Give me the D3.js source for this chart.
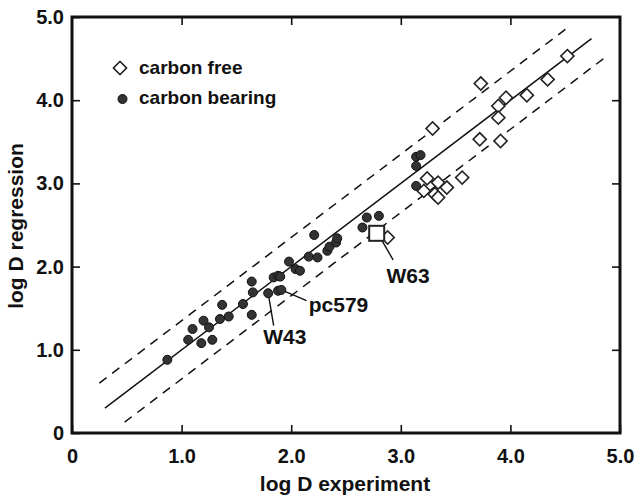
<!DOCTYPE html>
<html>
<head>
<meta charset="utf-8">
<script src="https://cdn.jsdelivr.net/npm/d3@7"></script>
<style>
  body { margin: 0; background: #fff; }
  svg { display: block; font-family: "Liberation Sans", Arial, Helvetica, sans-serif; font-weight: bold; }
  .tick text { font-size: 20px; font-weight: bold; fill: #111; }
  .tick line { stroke: #111; stroke-width: 1.6px; }
  .frame { fill: none; stroke: #111; stroke-width: 3px; }
  .fit { fill: none; stroke: #111; stroke-width: 1.5px; }
  .band { fill: none; stroke: #111; stroke-width: 1.5px; stroke-dasharray: 9 7; }
  .free { fill: #fff; stroke: #222; stroke-width: 1.6px; }
  .bearing { fill: #333; stroke: #111; stroke-width: 1px; }
  .leader { stroke: #111; stroke-width: 1.4px; }
  .note { font-size: 21px; fill: #111; }
  .title { font-size: 21px; fill: #111; }
  .legend text { font-size: 19px; fill: #111; }
</style>
</head>
<body>
<svg id="chart" width="641" height="500"></svg>
<script>
// carbon free samples: [log D experiment, log D regression]
var carbonFree = [
  [4.52, 4.53], [4.34, 4.25], [4.15, 4.06], [3.96, 4.03], [3.89, 3.93],
  [3.89, 3.79], [3.73, 4.20], [3.72, 3.53], [3.91, 3.51], [3.29, 3.66],
  [3.56, 3.07], [3.24, 3.06], [3.34, 3.01], [3.42, 2.95], [3.21, 2.91],
  [3.31, 2.87], [3.34, 2.83], [2.88, 2.35]
];

// carbon bearing samples
var carbonBearing = [
  [0.87, 0.88], [1.06, 1.12], [1.10, 1.25], [1.18, 1.08], [1.20, 1.35],
  [1.25, 1.27], [1.28, 1.12], [1.35, 1.37], [1.37, 1.54], [1.43, 1.40],
  [1.56, 1.55], [1.64, 1.82], [1.65, 1.69], [1.64, 1.42], [1.79, 1.68],
  [1.84, 1.87], [1.88, 1.89], [1.90, 1.88], [1.88, 1.71], [1.91, 1.72],
  [1.98, 2.06], [2.04, 1.97], [2.08, 1.95], [2.16, 2.12], [2.24, 2.11],
  [2.21, 2.38], [2.33, 2.19], [2.35, 2.24], [2.41, 2.29], [2.42, 2.34],
  [2.65, 2.47], [2.69, 2.59], [2.80, 2.61], [3.14, 3.32], [3.18, 3.34],
  [3.14, 3.21], [3.14, 2.97]
];

// highlighted sample W63 (open square)
var w63 = [2.78, 2.40];

// 1:1 line and the +/- 0.35 band
var fitLine = [[0.30, 0.30], [4.74, 4.74]];
var upperBand = [[0.25, 0.60], [4.51, 4.86]];
var lowerBand = [[0.48, 0.13], [4.88, 4.53]];

// labelled samples: point, leader end, text position (baseline start)
var notes = [
  { text: "W43",   p: [1.79, 1.68], end: [1.84, 1.29], at: [1.745, 1.07] },
  { text: "pc579", p: [1.91, 1.72], end: [2.14, 1.59], at: [2.16, 1.46] },
  { text: "W63",   p: [2.83, 2.31], end: [2.93, 2.08], at: [2.87, 1.80] }
];

var ticks = [0, 1, 2, 3, 4, 5];
var legendItems = ["carbon free", "carbon bearing"];

var svg = d3.select("#chart");
var x = d3.scaleLinear().domain([0, 5]).range([72, 620]);
var y = d3.scaleLinear().domain([0, 5]).range([433, 17]);
var fmt = function(d) { return d === 0 ? "0" : d.toFixed(1); };

// axes, ticks point inward
svg.append("g").attr("transform", "translate(0,433)")
  .call(d3.axisBottom(x).tickValues(ticks).tickFormat(fmt).tickSizeInner(-8).tickSizeOuter(0).tickPadding(16));
svg.append("g").attr("transform", "translate(72,0)")
  .call(d3.axisLeft(y).tickValues(ticks).tickFormat(fmt).tickSizeInner(-8).tickSizeOuter(0).tickPadding(8));
svg.append("g").attr("transform", "translate(0,17)")
  .call(d3.axisTop(x).tickValues(ticks.slice(1, 5)).tickFormat("").tickSizeInner(-8).tickSizeOuter(0));
svg.append("g").attr("transform", "translate(620,0)")
  .call(d3.axisRight(y).tickValues(ticks.slice(1, 5)).tickFormat("").tickSizeInner(-8).tickSizeOuter(0));
svg.selectAll(".domain").remove();
svg.selectAll(".tick text").attr("font-family", null);

svg.append("rect").attr("class", "frame")
  .attr("x", x(0)).attr("y", y(5))
  .attr("width", x(5) - x(0)).attr("height", y(0) - y(5));

// axis titles
svg.append("text").attr("class", "title").attr("x", 345).attr("y", 491).attr("text-anchor", "middle")
  .text("log D experiment");
svg.append("text").attr("class", "title").attr("transform", "translate(22.5,226) rotate(-90)").attr("text-anchor", "middle")
  .text("log D regression");

var line = d3.line().x(function(d) { return x(d[0]); }).y(function(d) { return y(d[1]); });
svg.append("path").attr("class", "fit").attr("d", line(fitLine));
svg.append("path").attr("class", "band").attr("d", line(upperBand));
svg.append("path").attr("class", "band").attr("d", line(lowerBand));

// leaders
svg.selectAll(".leader").data(notes).enter().append("line").attr("class", "leader")
  .attr("x1", function(d) { return x(d.p[0]); }).attr("y1", function(d) { return y(d.p[1]); })
  .attr("x2", function(d) { return x(d.end[0]); }).attr("y2", function(d) { return y(d.end[1]); });

var diamond = d3.symbol().type(d3.symbolSquare).size(86);

svg.selectAll(".bearing").data(carbonBearing).enter().append("circle").attr("class", "bearing")
  .attr("cx", function(d) { return x(d[0]); }).attr("cy", function(d) { return y(d[1]); })
  .attr("r", 4.5);

svg.selectAll(".free").data(carbonFree).enter().append("path").attr("class", "free")
  .attr("d", diamond)
  .attr("transform", function(d) { return "translate(" + x(d[0]) + "," + y(d[1]) + ") rotate(45)"; });

svg.append("rect").attr("class", "free").style("stroke-width", "2px")
  .attr("x", x(w63[0]) - 7.5).attr("y", y(w63[1]) - 7.5)
  .attr("width", 15).attr("height", 15);

svg.selectAll(".note").data(notes).enter().append("text").attr("class", "note")
  .attr("x", function(d) { return x(d.at[0]); }).attr("y", function(d) { return y(d.at[1]); })
  .text(function(d) { return d.text; });

// legend
var legend = svg.append("g").attr("class", "legend").attr("transform", "translate(120,68)");
legend.append("path").attr("class", "free").attr("d", diamond).attr("transform", "rotate(45)");
legend.append("circle").attr("class", "bearing").attr("cx", 2.5).attr("cy", 31).attr("r", 4.5);
legend.selectAll("text").data(legendItems).enter().append("text")
  .attr("x", 19).attr("y", function(d, i) { return 6 + i * 30.3; })
  .text(function(d) { return d; });
</script>
</body>
</html>
